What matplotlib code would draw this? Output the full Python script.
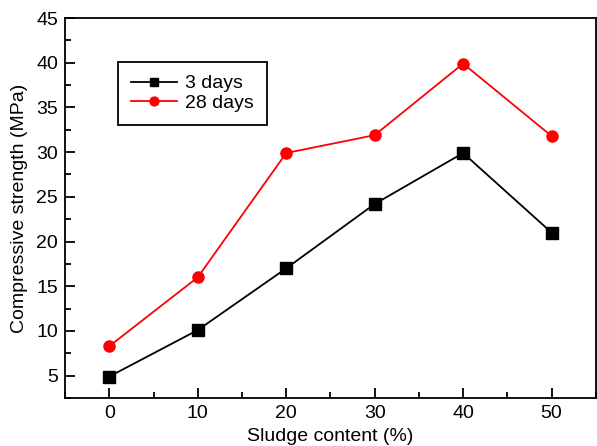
import matplotlib
matplotlib.use('Agg')
import matplotlib.pyplot as plt
from matplotlib.ticker import MultipleLocator

sludge = [0, 10, 20, 30, 40, 50]
days3 = [4.9, 10.1, 17.0, 24.2, 29.9, 21.0]
days28 = [8.3, 16.0, 29.9, 31.9, 39.9, 31.8]

plt.rcParams['font.family'] = ['Liberation Sans', 'DejaVu Sans']

fig = plt.figure(figsize=(5.97, 4.46), dpi=100)
ax = fig.add_axes([0.109, 0.1076, 0.889, 0.852])

ax.plot(sludge, days3, color='black', marker='s', markersize=8, linewidth=1.3, label='3 days')
ax.plot(sludge, days28, color='red', marker='o', markersize=8, linewidth=1.3, label='28 days')

ax.set_xlim(-5, 55)
ax.set_ylim(2.5, 45)
ax.xaxis.set_major_locator(MultipleLocator(10))
ax.xaxis.set_minor_locator(MultipleLocator(5))
ax.yaxis.set_major_locator(MultipleLocator(5))
ax.yaxis.set_minor_locator(MultipleLocator(2.5))
ax.tick_params(which='both', direction='in', labelsize=14, width=1.3)
ax.tick_params(which='major', length=7, pad=5)
ax.tick_params(which='minor', length=4)
for s in ax.spines.values():
    s.set_linewidth(1.3)

ax.set_xlabel('Sludge content (%)', fontsize=14, labelpad=4)
ax.set_ylabel('Compressive strength (MPa)', fontsize=14, labelpad=6)

leg = ax.legend(loc='upper left', bbox_to_anchor=(0.1, 0.884), borderaxespad=0,
                fontsize=14, fancybox=False, edgecolor='black', framealpha=1,
                handlelength=2.4, handletextpad=0.4, markerscale=0.8,
                borderpad=0.65, labelspacing=0.1)
leg.get_frame().set_linewidth(1.3)

fig.savefig('out.png', dpi=100)
